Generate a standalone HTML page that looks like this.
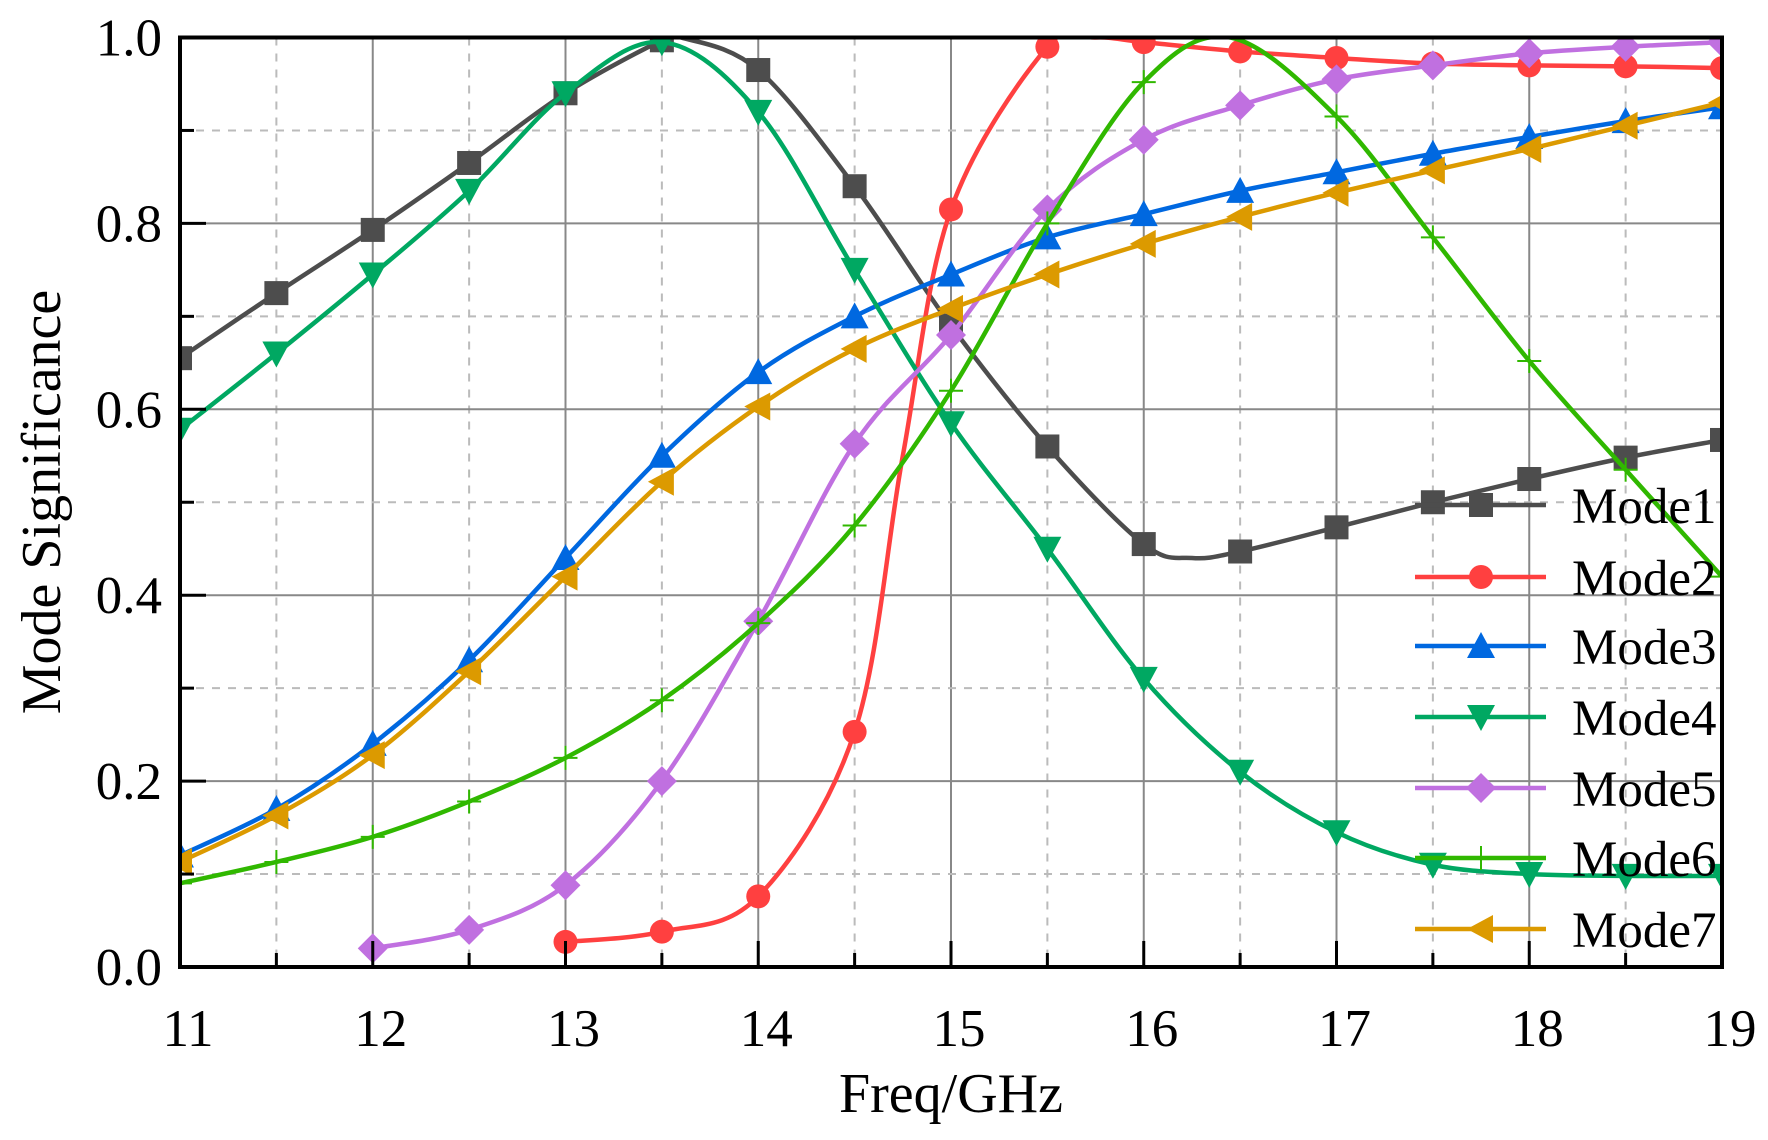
<!DOCTYPE html>
<html><head><meta charset="utf-8"><style>
html,body{margin:0;padding:0;background:#fff;}
svg text{font-family:"Liberation Serif",serif;fill:#000;}
</style></head><body>
<svg id="s" width="1768" height="1135" xmlns="http://www.w3.org/2000/svg">
<defs><clipPath id="cp"><rect x="180" y="37.5" width="1542" height="929.5"/></clipPath></defs>
<g id="grid"></g>
<g id="series" clip-path="url(#cp)"></g>
<g id="axes"></g>
<text x="60" y="502" font-size="56" text-anchor="middle" transform="rotate(-90 60 502)">Mode Significance</text>
<text x="951" y="1112" font-size="56" text-anchor="middle">Freq/GHz</text>
</svg>
<script>
var L=180,R=1722,T=37.5,B=967;
function X(v){return L+(v-11)*(R-L)/8;}
function Y(v){return B-v*(B-T);}
var NS="http://www.w3.org/2000/svg";
function el(p,t,a,txt){var e=document.createElementNS(NS,t);for(var k in a)e.setAttribute(k,a[k]);if(txt!==undefined)e.textContent=txt;p.appendChild(e);return e;}
var g=document.getElementById('grid'),ax=document.getElementById('axes'),se=document.getElementById('series');
for(var i=0;i<=16;i++){var x=X(11+i*0.5);el(g,'line',{x1:x,x2:x,y1:T,y2:B,stroke:i%2?'#bbb':'#888','stroke-width':2,'stroke-dasharray':i%2?'8,8':''});}
for(var i=0;i<=10;i++){var y=Y(i*0.1);el(g,'line',{x1:L,x2:R,y1:y,y2:y,stroke:i%2?'#bbb':'#888','stroke-width':2,'stroke-dasharray':i%2?'8,8':''});}
el(ax,'rect',{x:L,y:T,width:R-L,height:B-T,fill:'none',stroke:'#000','stroke-width':4});
for(var i=0;i<=16;i++){var x=X(11+i*0.5),len=i%2?14:26;el(ax,'line',{x1:x,x2:x,y1:B,y2:B-len,stroke:'#000','stroke-width':3});}
for(var i=0;i<=10;i++){var y=Y(i*0.1),len=i%2?14:26;el(ax,'line',{x1:L,x2:L+len,y1:y,y2:y,stroke:'#000','stroke-width':3});}
for(var i=0;i<=8;i++)el(ax,'text',{x:X(11+i)+8,y:1046,'font-size':53,'text-anchor':'middle'},String(11+i));
for(var i=0;i<=5;i++)el(ax,'text',{x:162,y:Y(i*0.2)+18,'font-size':53,'text-anchor':'end'},(i*0.2).toFixed(1));
var S=[
{c:'#4d4d4d',m:'sq',d:[[11,.655],[11.5,.725],[12,.793],[12.5,.865],[13,.94],[13.5,.997],[13.6,1.0],[14,.965],[14.5,.84],[15,.69],[15.5,.56],[16,.455],[16.25,.44],[16.5,.447],[17,.473],[17.5,.5],[18,.525],[18.5,.548],[19,.567]]},
{c:'#ff4040',m:'ci',d:[[13,.027],[13.5,.038],[14,.076],[14.5,.253],[14.75,.55],[15,.815],[15.5,.99],[15.75,1.0],[16,.995],[16.5,.985],[17,.978],[17.5,.972],[18,.97],[18.5,.969],[19,.967]]},
{c:'#0068e0',m:'up',d:[[11,.12],[11.5,.17],[12,.24],[12.5,.33],[13,.44],[13.5,.55],[14,.64],[14.5,.70],[15,.745],[15.5,.785],[16,.81],[16.5,.835],[17,.855],[17.5,.875],[18,.893],[18.5,.91],[19,.925]]},
{c:'#00a862',m:'dn',d:[[11,.578],[11.5,.66],[12,.745],[12.5,.835],[13,.94],[13.5,.995],[14,.92],[14.5,.75],[15,.585],[15.5,.45],[16,.31],[16.5,.21],[17,.145],[17.5,.11],[18,.1],[18.5,.098],[19,.098]]},
{c:'#c070e0',m:'di',d:[[12,.02],[12.5,.04],[13,.088],[13.5,.2],[14,.372],[14.5,.563],[15,.68],[15.5,.815],[16,.89],[16.5,.927],[17,.955],[17.5,.97],[18,.983],[18.5,.99],[19,.995]]},
{c:'#30b800',m:'pl',d:[[11,.09],[11.5,.113],[12,.14],[12.5,.178],[13,.225],[13.5,.287],[14,.37],[14.5,.475],[15,.62],[15.5,.8],[16,.952],[16.45,1.0],[17,.915],[17.5,.785],[18,.652],[18.5,.535],[19,.42]]},
{c:'#dc9a00',m:'lf',d:[[11,.113],[11.5,.163],[12,.228],[12.5,.318],[13,.42],[13.5,.522],[14,.603],[14.5,.665],[15,.708],[15.5,.745],[16,.778],[16.5,.807],[17,.833],[17.5,.857],[18,.88],[18.5,.905],[19,.93]]}
];
function path(pts){var p=pts.map(function(d){return [X(d[0]),Y(d[1])];});var s='M'+p[0][0]+','+p[0][1];
for(var i=0;i<p.length-1;i++){var p0=p[i-1]||p[i],p1=p[i],p2=p[i+1],p3=p[i+2]||p2;
s+=' C'+(p1[0]+(p2[0]-p0[0])/6)+','+(p1[1]+(p2[1]-p0[1])/6)+' '+(p2[0]-(p3[0]-p1[0])/6)+','+(p2[1]-(p3[1]-p1[1])/6)+' '+p2[0]+','+p2[1];}return s;}
function marker(p,m,c,x,y){var r=12;
if(m=='sq')el(p,'rect',{x:x-r,y:y-r,width:2*r,height:2*r,fill:c});
else if(m=='ci')el(p,'circle',{cx:x,cy:y,r:r,fill:c});
else if(m=='up')el(p,'polygon',{points:(x)+','+(y-r-2)+' '+(x+r+2)+','+(y+r)+' '+(x-r-2)+','+(y+r),fill:c});
else if(m=='dn')el(p,'polygon',{points:(x)+','+(y+r+2)+' '+(x+r+2)+','+(y-r)+' '+(x-r-2)+','+(y-r),fill:c});
else if(m=='lf')el(p,'polygon',{points:(x-r-2)+','+(y)+' '+(x+r)+','+(y-r-2)+' '+(x+r)+','+(y+r+2),fill:c});
else if(m=='di')el(p,'polygon',{points:x+','+(y-r-3)+' '+(x+r+3)+','+y+' '+x+','+(y+r+3)+' '+(x-r-3)+','+y,fill:c});
else if(m=='pl'){el(p,'line',{x1:x-12,x2:x+12,y1:y,y2:y,stroke:c,'stroke-width':2});el(p,'line',{x1:x,x2:x,y1:y-12,y2:y+12,stroke:c,'stroke-width':2});}}
S.forEach(function(s){el(se,'path',{d:path(s.d),fill:'none',stroke:s.c,'stroke-width':4.5});
s.d.forEach(function(d){if(Math.abs(d[0]*2-Math.round(d[0]*2))<1e-6)marker(se,s.m,s.c,X(d[0]),Y(d[1]));});});
var ly=[505,577,646,717,788,858,929];
S.forEach(function(s,i){el(ax,'line',{x1:1415,x2:1546,y1:ly[i],y2:ly[i],stroke:s.c,'stroke-width':4.5});marker(ax,s.m,s.c,1481,ly[i]);
el(ax,'text',{x:1572,y:ly[i]+18,'font-size':51},'Mode'+(i+1));});
</script>
</body></html>
